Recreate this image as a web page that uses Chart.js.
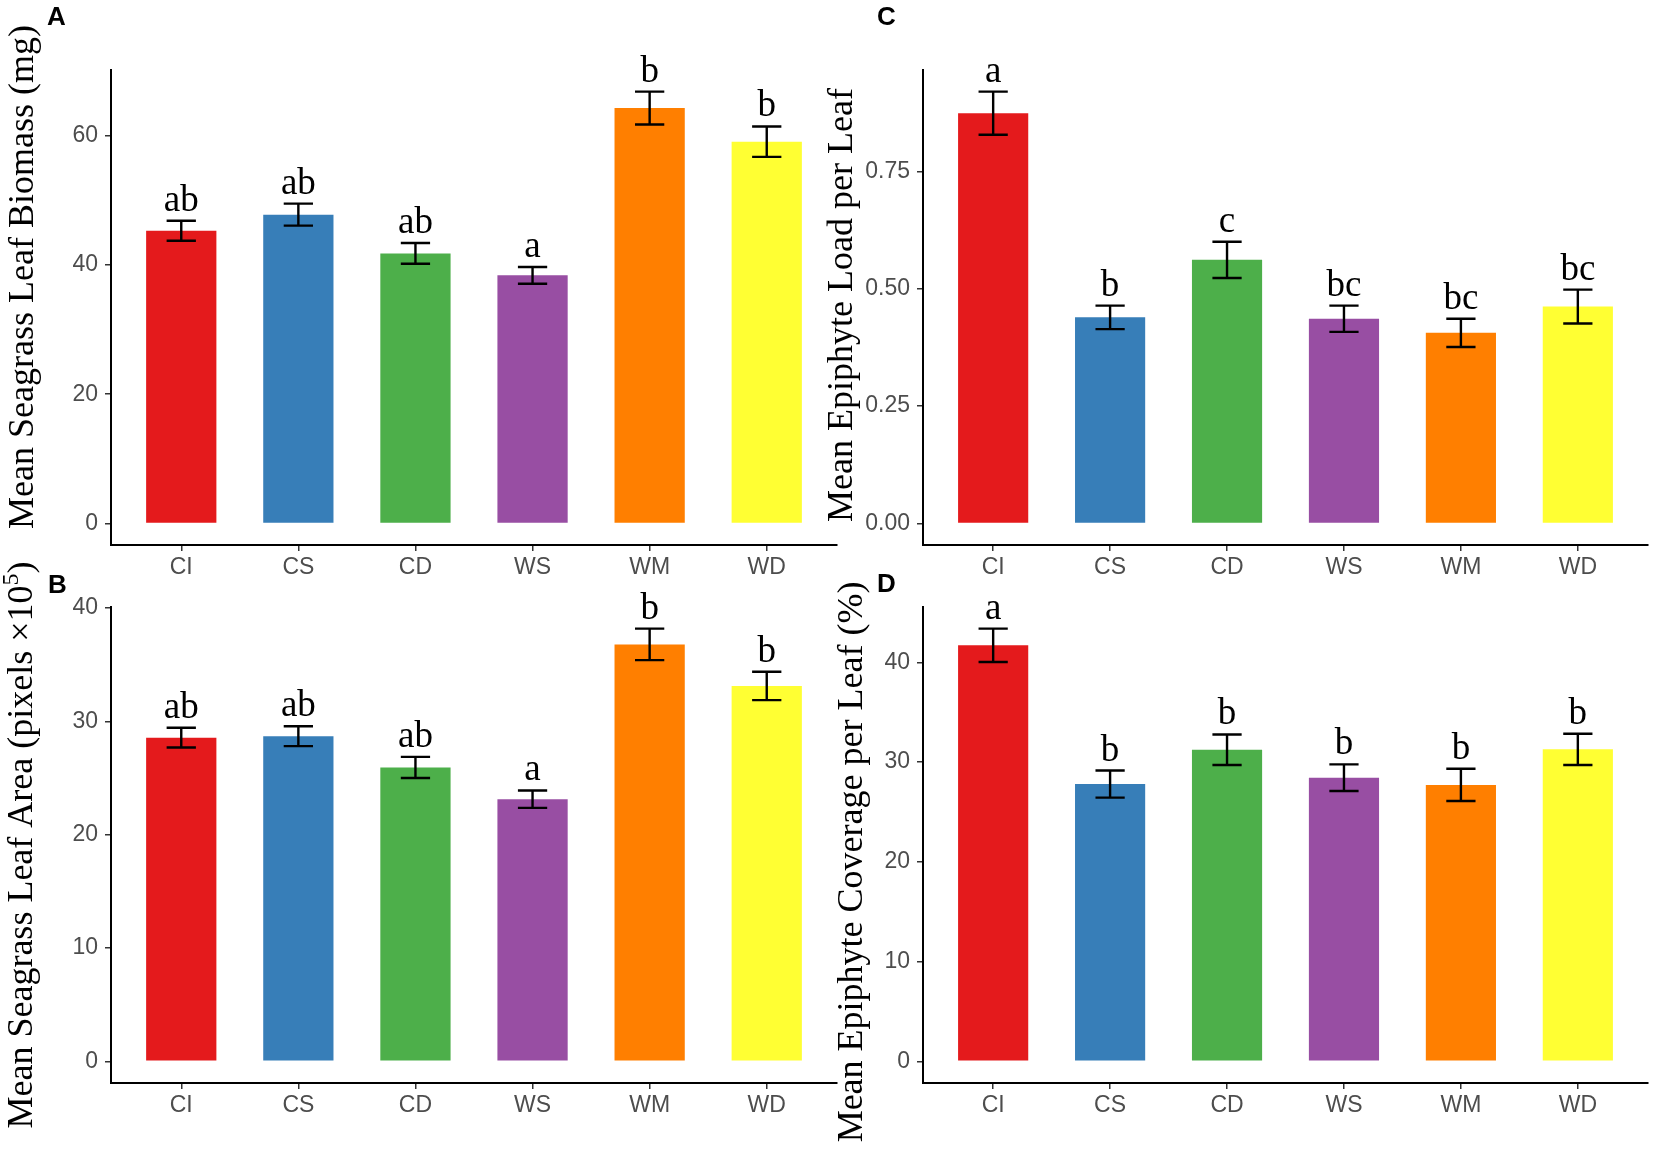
<!DOCTYPE html>
<html>
<head>
<meta charset="utf-8">
<script src="https://cdn.jsdelivr.net/npm/chart.js@4.4.1/dist/chart.umd.min.js"></script>
<style>
  body { margin: 0; background: #fff; }
  #page { position: relative; width: 1654px; height: 1152px; overflow: hidden; background: #fff; }
  canvas { position: absolute; }
</style>
</head>
<body>
<div id="page">
  <canvas id="pA" width="840" height="590" style="left:0;top:0"></canvas>
  <canvas id="pC" width="832" height="590" style="left:822px;top:0"></canvas>
  <canvas id="pB" width="840" height="612" style="left:0;top:540px"></canvas>
  <canvas id="pD" width="832" height="612" style="left:822px;top:540px"></canvas>
</div>
<script>
// Grupos de tratamento e paleta Set1
const GROUPS = ["CI", "CS", "CD", "WS", "WM", "WD"];
const COLORS = ["#E41A1C", "#377EB8", "#4DAF4A", "#984EA3", "#FF7F00", "#FFFF33"];

// A: biomassa foliar (mg)
const biomassMean = [45.3, 47.8, 41.8, 38.4, 64.3, 59.1];
const biomassSe = [1.55, 1.7, 1.6, 1.3, 2.55, 2.35];
const biomassLetters = ["ab", "ab", "ab", "a", "b", "b"];
const biomassTicks = [0, 20, 40, 60];

// B: área foliar (pixels x10^5)
const areaMean = [28.57, 28.7, 25.94, 23.14, 36.8, 33.13];
const areaSe = [0.87, 0.88, 0.93, 0.77, 1.39, 1.25];
const areaLetters = ["ab", "ab", "ab", "a", "b", "b"];
const areaTicks = [0, 10, 20, 30, 40];

// C: carga de epífitas por folha
const loadMean = [0.874, 0.439, 0.5615, 0.436, 0.406, 0.462];
const loadSe = [0.046, 0.025, 0.0385, 0.028, 0.03, 0.036];
const loadLetters = ["a", "b", "c", "bc", "bc", "bc"];
const loadTicks = [0, 0.25, 0.5, 0.75];

// D: cobertura de epífitas por folha (%)
const coverMean = [41.7, 27.79, 31.23, 28.43, 27.71, 31.27];
const coverSe = [1.67, 1.36, 1.53, 1.34, 1.61, 1.57];
const coverLetters = ["a", "b", "b", "b", "b", "b"];
const coverTicks = [0, 10, 20, 30, 40];

const SERIF = "'Liberation Serif', 'Times New Roman', serif";
const SANS = "'Liberation Sans', Arial, sans-serif";

const PANELS = [
  {
    id: "pA", tag: "A", mean: biomassMean, se: biomassSe, letters: biomassLetters,
    ticks: biomassTicks, digits: 0,
    title: [{ text: "Mean Seagrass Leaf Biomass (mg)" }],
    titleX: 33, titleY: 277, tagX: 47, tagY: 25,
    padding: { left: 0, top: 70, right: 3, bottom: 0 }, yWidth: 111, xHeight: 45,
  },
  {
    id: "pB", tag: "B", mean: areaMean, se: areaSe, letters: areaLetters,
    ticks: areaTicks, digits: 0,
    title: [
      { text: "Mean Seagrass Leaf Area (pixels \u00d710" },
      { text: "5", sup: true },
      { text: ")" },
    ],
    titleX: 32, titleY: 305, tagX: 48, tagY: 53,
    padding: { left: 0, top: 67, right: 3, bottom: 0 }, yWidth: 111, xHeight: 69,
  },
  {
    id: "pC", tag: "C", mean: loadMean, se: loadSe, letters: loadLetters,
    ticks: loadTicks, digits: 2,
    title: [{ text: "Mean Epiphyte Load per Leaf" }],
    titleX: 30, titleY: 305, tagX: 55, tagY: 25,
    padding: { left: 0, top: 70, right: 6, bottom: 0 }, yWidth: 101, xHeight: 45,
  },
  {
    id: "pD", tag: "D", mean: coverMean, se: coverSe, letters: coverLetters,
    ticks: coverTicks, digits: 0,
    title: [{ text: "Mean Epiphyte Coverage per Leaf (%)" }],
    titleX: 40, titleY: 322, tagX: 55, tagY: 52,
    padding: { left: 0, top: 67, right: 6, bottom: 0 }, yWidth: 101, xHeight: 69,
  },
];

// Barras de erro, letras de significância, título do eixo y e etiqueta do painel
const annotations = {
  id: "annotations",
  afterDatasetsDraw(chart, args, opts) {
    const { ctx, scales: { x, y } } = chart;
    const p = opts.panel;
    ctx.save();
    ctx.strokeStyle = "#000";
    ctx.lineWidth = 2.4;
    ctx.fillStyle = "#000";
    ctx.font = "37px " + SERIF;
    ctx.textAlign = "center";
    ctx.textBaseline = "alphabetic";
    p.mean.forEach((m, i) => {
      const cx = x.getPixelForValue(i + 1);
      const half = x.getPixelForValue(i + 1 + 0.125) - cx;
      const top = y.getPixelForValue(m + p.se[i]);
      const bot = y.getPixelForValue(m - p.se[i]);
      ctx.beginPath();
      ctx.moveTo(cx, top); ctx.lineTo(cx, bot);
      ctx.moveTo(cx - half, top); ctx.lineTo(cx + half, top);
      ctx.moveTo(cx - half, bot); ctx.lineTo(cx + half, bot);
      ctx.stroke();
      ctx.fillText(p.letters[i], cx, top - 10);
    });

    // título do eixo y (rotacionado), com sobrescrito quando necessário
    ctx.translate(p.titleX, p.titleY);
    ctx.rotate(-Math.PI / 2);
    ctx.textAlign = "left";
    const fontFor = (part) => (part.sup ? "24px " : "36px ") + SERIF;
    let total = 0;
    p.title.forEach((part) => { ctx.font = fontFor(part); total += ctx.measureText(part.text).width; });
    let tx = -total / 2;
    p.title.forEach((part) => {
      ctx.font = fontFor(part);
      ctx.fillText(part.text, tx, part.sup ? -14 : 0);
      tx += ctx.measureText(part.text).width;
    });
    ctx.restore();

    ctx.save();
    ctx.fillStyle = "#000";
    ctx.font = "bold 26px " + SANS;
    ctx.textAlign = "left";
    ctx.textBaseline = "alphabetic";
    ctx.fillText(p.tag, p.tagX, p.tagY);
    ctx.restore();
  },
};

function renderPanel(p) {
  const top = Math.max(...p.mean.map((m, i) => m + p.se[i]));
  const config = {
    type: "bar",
    data: {
      datasets: [{
        data: p.mean.map((m, i) => ({ x: i + 1, y: m })),
        backgroundColor: COLORS,
        borderWidth: 0,
        barPercentage: 0.6,
        categoryPercentage: 1,
      }],
    },
    options: {
      responsive: false,
      animation: false,
      layout: { padding: p.padding },
      plugins: {
        legend: { display: false },
        tooltip: { enabled: false },
        annotations: { panel: p },
      },
      scales: {
        x: {
          type: "linear",
          offset: false,
          min: 0.4,
          max: 6.6,
          afterBuildTicks: (s) => { s.ticks = GROUPS.map((g, i) => ({ value: i + 1 })); },
          afterFit: (s) => { s.height = p.xHeight; },
          grid: { offset: false, drawOnChartArea: false, drawTicks: true, tickLength: 6, color: "#333", lineWidth: 1.5 },
          border: { display: true, color: "#000", width: 2 },
          ticks: {
            autoSkip: false, maxRotation: 0, padding: 3, color: "#4D4D4D",
            font: { family: SANS, size: 23 },
            callback: (v) => GROUPS[v - 1],
          },
        },
        y: {
          type: "linear",
          min: -0.05 * top,
          max: 1.05 * top,
          afterBuildTicks: (s) => { s.ticks = p.ticks.map((v) => ({ value: v })); },
          afterFit: (s) => { s.width = p.yWidth; },
          grid: { drawOnChartArea: false, drawTicks: true, tickLength: 6, color: "#333", lineWidth: 1.5 },
          border: { display: true, color: "#000", width: 2 },
          ticks: {
            padding: 7, color: "#4D4D4D",
            font: { family: SANS, size: 23 },
            callback: (v) => v.toFixed(p.digits),
          },
        },
      },
    },
    plugins: [annotations],
  };
  return new Chart(document.getElementById(p.id), config);
}

PANELS.forEach(renderPanel);
</script>
</body>
</html>
